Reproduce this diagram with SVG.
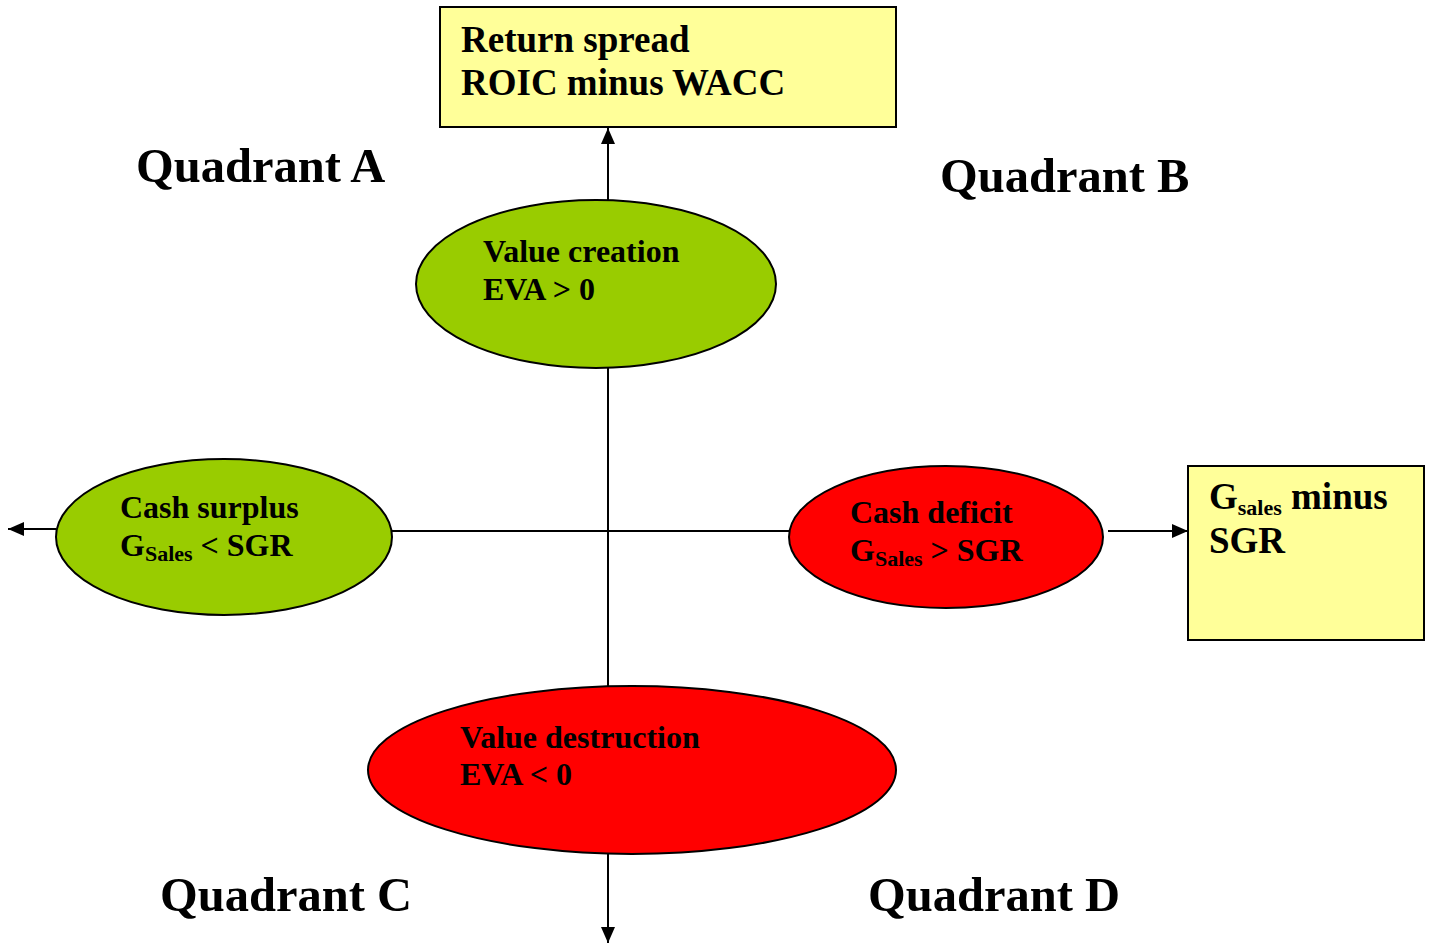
<svg xmlns="http://www.w3.org/2000/svg" width="1431" height="945" viewBox="0 0 1431 945">
<style>
text{font-family:"Liberation Serif","Times New Roman",serif;font-weight:bold;fill:#000}
.box{fill:#FFFF99;stroke:#000;stroke-width:2}
.green{fill:#99CC00;stroke:#000;stroke-width:2}
.red{fill:#FF0000;stroke:#000;stroke-width:2}
.ln{stroke:#000;stroke-width:2;fill:none}
.q{font-size:48.5px}
.t34{font-size:37px}
.t29{font-size:32px}
.sub{font-size:22px}
</style>
<defs>
<marker id="ah2" markerWidth="16" markerHeight="14" refX="16" refY="7" orient="auto" markerUnits="userSpaceOnUse" viewBox="0 0 16 14">
<path d="M0,0 L16,7 L0,14 z" fill="#000"/>
</marker>
</defs>
<g id="connectors">
<line class="ln" x1="608" y1="200" x2="608" y2="128" marker-end="url(#ah2)"/>
<line class="ln" x1="608" y1="368" x2="608" y2="686"/>
<line class="ln" x1="392" y1="531" x2="789" y2="531"/>
<line class="ln" x1="56" y1="529" x2="8" y2="529" marker-end="url(#ah2)"/>
<line class="ln" x1="1108" y1="531" x2="1188" y2="531" marker-end="url(#ah2)"/>
<line class="ln" x1="608" y1="854" x2="608" y2="943" marker-end="url(#ah2)"/>
</g>
<g id="node-return-spread">
<rect class="box" x="440" y="7" width="456" height="120"/>
<text class="t34" x="461" y="52">Return spread</text>
<text class="t34" x="461" y="95">ROIC minus WACC</text>
</g>
<g id="node-value-creation">
<ellipse class="green" cx="596" cy="284" rx="180" ry="84"/>
<text class="t29" x="483" y="262">Value creation</text>
<text class="t29" x="483" y="300">EVA &gt; 0</text>
</g>
<g id="node-cash-surplus">
<ellipse class="green" cx="224" cy="537" rx="168" ry="78"/>
<text class="t29" x="120" y="518">Cash surplus</text>
<text class="t29" x="120" y="556">G<tspan class="sub" dy="5">Sales</tspan><tspan dy="-5"> &lt; SGR</tspan></text>
</g>
<g id="node-cash-deficit">
<ellipse class="red" cx="946" cy="537" rx="157" ry="71"/>
<text class="t29" x="850" y="523">Cash deficit</text>
<text class="t29" x="850" y="561">G<tspan class="sub" dy="5">Sales</tspan><tspan dy="-5"> &gt; SGR</tspan></text>
</g>
<g id="node-gsales-minus-sgr">
<rect class="box" x="1188" y="466" width="236" height="174"/>
<text class="t34" x="1209" y="509">G<tspan class="sub" dy="6">sales</tspan><tspan dy="-6"> minus</tspan></text>
<text class="t34" x="1209" y="553">SGR</text>
</g>
<g id="node-value-destruction">
<ellipse class="red" cx="632" cy="770" rx="264" ry="84"/>
<text class="t29" x="460" y="748">Value destruction</text>
<text class="t29" x="460" y="785">EVA &lt; 0</text>
</g>
<g id="labels">
<text class="q" x="136" y="182">Quadrant A</text>
<text class="q" x="940" y="192">Quadrant B</text>
<text class="q" x="160" y="911">Quadrant C</text>
<text class="q" x="868" y="911">Quadrant D</text>
</g>
</svg>
